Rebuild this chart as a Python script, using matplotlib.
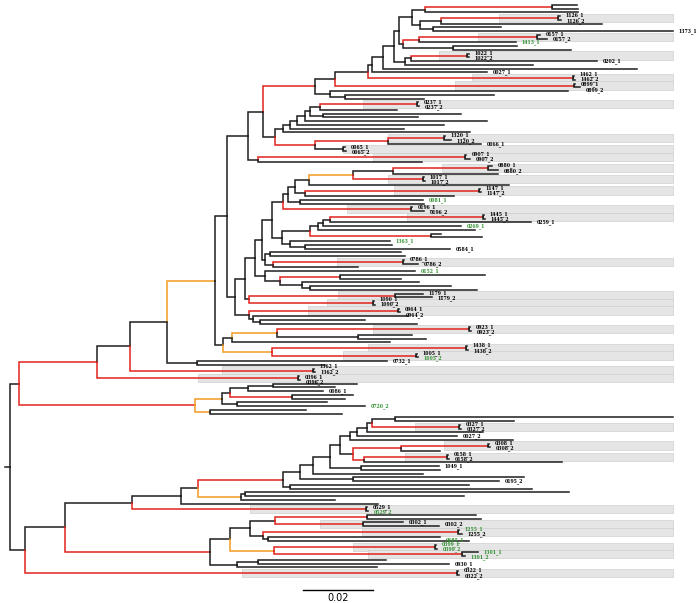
import re
import matplotlib
matplotlib.use('Agg')
import matplotlib.pyplot as plt
from matplotlib.patches import Rectangle

# Tree in Newick form. The number after ':' is the node depth (distance from
# the root, in 1e-3 substitutions/site). A trailing 'r' / 'o' marks a red /
# orange branch leading to that node; everything else is black.

# ---- upper part -------------------------------------------------------
T6 = "(((:162.0,:162.3):154.9r,:162.3):118.6,(((1126_1:157.1,1126_2:157.4):156.6r,:169.1):123.1,(:140.3,1373_1:189.4):120.9):117.1):114.9"
T7 = "(((0157_1:151.4,0157_2:153.4):150.6r,1413_1:144.6):116.9r,(:144.9,:160.3):126.6):112.3"
T5 = "(((1022_1:131.0,1022_2:131.2):130.6r,0202_1:167.7):114.6,:149.4):112.9"
N330 = "(:159.4,(:138.3,:118.3):95.7):91.4"
LADDER = "(((((((0237_1:116.6,0237_2:116.9):116.3r,:110.6):88.6,(:128.9,:116.6):89.4):85.7,:136.3):84.3,:124.0):82.0,:112.6):80.0,:131.4):78.0"
N315B = "(((1320_1:124.3,1320_2:126.0):124.0r,0066_1:134.6):108.0r,(0065_1:95.7,0065_2:96.0):95.1):87.1r"
N258 = "((0907_1:130.3,0907_2:131.4):130.0r,:117.7):70.9"

U1 = "(((((((0880_1:137.7,0880_2:139.4):136.6r,:139.4):109.4,(1017_1:118.3,1017_2:118.6):118.0r):98.0o,:142.6):85.4,((1147_1:134.3,1147_2:134.6):134.0r,:126.9):84.3):81.4,(0081_1:118.0,:118.3):82.9):79.4,(0196_1:114.9,0196_2:118.3):114.6r):78.0"
U2 = "((((((1445_1:135.4,1445_2:135.7):135.1r,0259_1:148.9):91.4,0269_1:128.9):89.4,:132.9):88.0,(:123.1,:134.9):120.3r):85.7,(1363_1:108.6,(:109.1,0584_1:125.7):84.3):80.0):77.7"
U3 = "((:111.7,:112.9):74.3,((0786_1:112.6,0786_2:116.6):112.3r,:99.4):75.1):72.9"
U4 = "(0152_1:115.7,((:135.7,:111.7):94.3r,(:116.9,(:126.0,:133.4):85.7):83.4):77.1):72.9"
U5 = "((1179_1:118.0,1179_2:120.6):110.0r,(1090_1:104.0,1090_2:104.3):103.7r):68.3"
U6 = "((0964_1:111.1,0964_2:111.4):110.9r,(:113.7,(:101.4,:116.3):71.4):69.4):68.3"

G = "((((0923_1:131.4,0923_2:131.7):131.1r,(:114.9,:118.9):99.4):76.3o,:108.6):63.4,((1438_1:130.6,1438_2:130.9):130.3r,(1005_1:116.3,1005_2:116.6):116.0r):74.9o):60.9"
D2 = "(0732_1:107.7,:90.0):53.4"
CL0720 = "(((((:99.1,:92.9):75.1,0086_1:89.4):68.0,(:98.0,:95.7):80.6r):62.9,(:90.6,0720_2:101.4):64.9):60.6o,(:84.6,:94.9):57.1o):52.9r"

# ---- lower part -------------------------------------------------------
LADDER_L = "((((((((:189.4,:144.0):110.0,(0327_1:128.6,0327_2:128.9):128.3r):103.4,:135.1):102.0,0027_2:127.7):99.1,:143.7):97.1,(((0308_1:136.9,0308_2:137.1):136.6r,:122.9):111.7r,((0158_1:125.1,0158_2:125.4):124.9r,:157.7):101.1r):98.0):94.3,(1049_1:122.6,:122.9):100.3):91.4,:118.0):86.6"
N241 = "((:159.7,:129.7):67.1,:92.9):66.0o"
N230 = "((((:133.1,:134.6):102.0r,(0302_1:112.3,0302_2:122.6):100.9r):75.7,((1255_1:128.3,1255_2:129.1):128.0r,(0685_1:122.9,:131.1):73.7):72.3):68.6,((0399_1:121.7,0399_2:122.0):121.4r,(1301_1:133.7,1301_2:130.0):129.1r):75.4o):62.9"
N237 = "((:107.4,0930_1:125.4):70.9,:104.9):64.9"

# ---- assemble ---------------------------------------------------------
T4 = f"({T6},{T7}):111.1"
T3 = f"({T4},{T5}):109.7"
T2 = f"({T3},:179.1):106.6"
T1 = f"({T2},0027_1:136.3):103.4"
T0 = f"({T1},(1462_1:161.1,1462_2:161.4):160.9r):102.3"
N335 = f"({T0},(0899_1:161.4,0899_2:162.9):161.1r):92.9"
N315 = f"({N335},{N330}):87.1r"
N275 = f"({LADDER},{N315B}):75.7"
N263 = f"({N315},{N275}):72.3"
H = f"({N263},{N258}):68.0"
N272 = f"({U1},{U2}):74.9"
N262 = f"({N272},{U3}):72.0"
N255 = f"({N262},{U4}):70.0"
N245 = f"({N255},{U5}):67.1"
N235 = f"({N245},{U6}):64.3"
F = f"({H},{N235}):62.0"
E = f"({F},{G}):58.6o"
D = f"({E},{D2}):44.9"
C = f"({D},(1362_1:86.9,1362_2:87.1):86.6r):34.3"
B = f"({C},(0396_1:82.6,0396_2:82.9):82.3r):24.9r"
UPPER = f"({B},{CL0720}):2.6"

LOW_A = f"(({LADDER_L},(:146.9,0195_2:139.7):98.0):82.9,(:131.1,:149.1):80.0):78.0r"
N198 = f"({LOW_A},{N241}):53.7"
N181 = f"({N198},:105.1):48.9"
N132 = f"({N181},(0529_1:102.0,0529_2:102.3):101.7r):34.9"
N210 = f"({N230},{N237}):57.1r"
L65 = f"({N132},{N210}):15.7"
LOWER = f"({L65},(0322_1:128.0,0322_2:128.3):127.7r):4.3"
TREE = f"({UPPER},{LOWER}):0;"

GREEN = ['1413_1', '0081_1', '0269_1', '1363_1', '0152_1', '1005_2', '0720_2',
         '0529_2', '1255_1', '0685_1', '0399_1', '0399_2', '1301_1', '1301_2']

# grey bands behind sequence pairs, with the depth where each band starts
BAND_PAIRS = ['1126', '0157', '1022', '1462', '0899', '0237', '1320', '0065',
              '0907', '0880', '1017', '1147', '0196', '1445', '0786', '1179',
              '1090', '0964', '0923', '1438', '1005', '1362', '0396', '0327',
              '0308', '0158', '0529', '0302', '1255', '0399', '1301', '0322']
BAND_START = [139.7, 133.7, 122.6, 132.0, 127.1, 100.9, 108.0, 95.1,
              103.7, 123.4, 108.0, 109.7, 96.3, 113.4, 93.4, 93.7,
              90.6, 85.1, 103.7, 102.3, 95.1, 60.6, 53.7, 115.7,
              124.0, 112.9, 68.6, 88.6, 100.6, 98.0, 102.3, 66.3]

SCALE_LEN = 20.0   # 0.02 substitutions/site

COLORS = {'k': '#1e1e1e', 'r': '#e2231d', 'o': '#f39a22'}
GREEN_COL = '#2f8f2f'
LW = 1.1


def parse(s):
    pos = 0

    def node():
        nonlocal pos
        n = {'children': [], 'name': '', 'depth': 0.0, 'col': 'k'}
        if s[pos] == '(':
            pos += 1
            while True:
                n['children'].append(node())
                if s[pos] == ',':
                    pos += 1
                    continue
                break
            pos += 1
        m = re.match(r"([^:,();]*)(?::([\d.]+)([ro]?))?", s[pos:])
        n['name'] = m.group(1)
        if m.group(2):
            n['depth'] = float(m.group(2))
        n['col'] = m.group(3) or 'k'
        pos += m.end()
        return n

    return node()


root = parse(TREE)
leaves = []


def layout(n):
    if not n['children']:
        n['y'] = len(leaves)
        leaves.append(n)
    else:
        for c in n['children']:
            layout(c)
        n['y'] = (n['children'][0]['y'] + n['children'][-1]['y']) / 2


layout(root)
n_leaves = len(leaves)
by_name = {l['name']: l for l in leaves if l['name']}
max_depth = max(l['depth'] for l in leaves)

fig = plt.figure(figsize=(7, 6.03), dpi=100)
ax = fig.add_axes([0, 0, 1, 1])
ax.set_xlim(-10 / 3.5, 690 / 3.5)
ax.set_ylim(n_leaves - 1 + 7.47, -1.33)
ax.axis('off')

# bands
for p, x0 in zip(BAND_PAIRS, BAND_START):
    y0 = by_name[p + '_1']['y']
    y1 = by_name[p + '_2']['y']
    ax.add_patch(Rectangle((x0, y0 - 0.6), max_depth - x0, y1 - y0 + 1.2,
                           facecolor='#e5e5e5', edgecolor='#cfcfcf', lw=0.5, zorder=0))


def draw(n):
    for c in n['children']:
        ax.plot([n['depth'], n['depth'], c['depth']], [n['y'], c['y'], c['y']],
                color=COLORS[c['col']], lw=LW, solid_joinstyle='miter',
                solid_capstyle='projecting', zorder=2)
        draw(c)


draw(root)
ax.plot([-1.4, 0], [root['y'], root['y']], color=COLORS['k'], lw=LW, zorder=2)

# labels: runs of neighbouring labelled leaves that end at about the same
# depth get spread a little so the tiny texts don't sit on top of each other
runs = []
for i, l in enumerate(leaves):
    if not l['name']:
        continue
    prev = runs[-1][-1] if runs else None
    if prev is not None and prev == i - 1 and abs(leaves[prev]['depth'] - l['depth']) < 8:
        runs[-1].append(i)
    else:
        runs.append([i])

for run in runs:
    mid = sum(leaves[i]['y'] for i in run) / len(run)
    for j, i in enumerate(run):
        l = leaves[i]
        y = mid + (j - (len(run) - 1) / 2) * 1.4
        ax.text(l['depth'] + 1.6, y, l['name'], fontsize=3.3, va='center', ha='left',
                fontweight='bold', family='DejaVu Serif',
                color=GREEN_COL if l['name'] in GREEN else 'black', zorder=3)

# scale bar
sb_y = n_leaves - 1 + 4.0
ax.plot([83.7, 83.7 + SCALE_LEN], [sb_y, sb_y], color='black', lw=1.0)
ax.text(83.7 + SCALE_LEN / 2, sb_y + 2.2, '0.02', fontsize=7, ha='center', va='center')

fig.savefig('out.png', dpi=100)
